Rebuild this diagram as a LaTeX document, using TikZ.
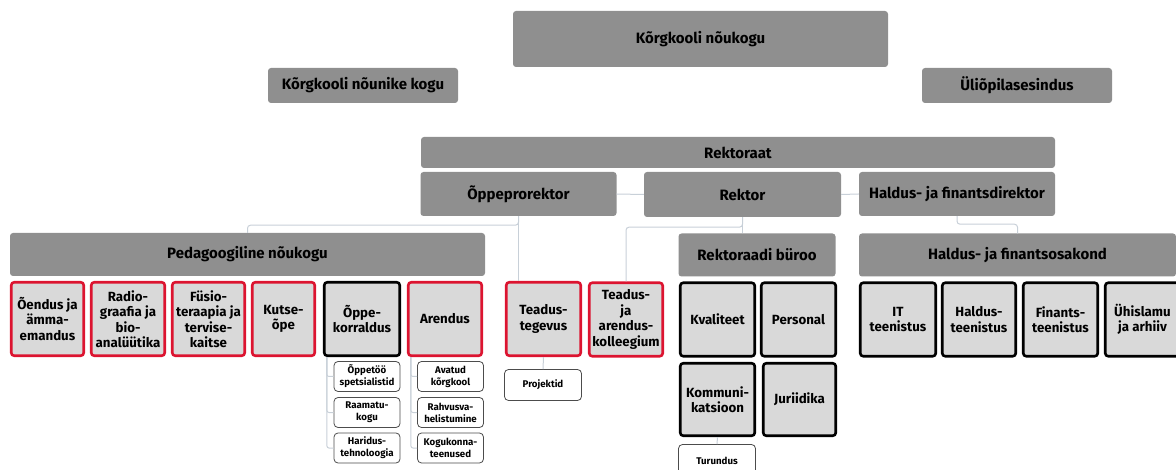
\documentclass[tikz,border=0pt]{standalone}
\usepackage{fontspec}
\setmainfont{Fira Sans}
\definecolor{headgray}{HTML}{8F8F8F}
\definecolor{unitgray}{HTML}{D9D9D9}
\definecolor{unitred}{HTML}{DC1430}
\definecolor{linkgray}{HTML}{C8D0D8}
\tikzset{
  box/.style={rounded corners=3pt, inner sep=0pt, align=center},
  head/.style={box, fill=headgray, font=\bfseries\fontsize{15}{17}\selectfont},
  unit/.style={box, fill=unitgray, draw=black, line width=2.6pt, minimum height=73.5pt,
    font=\bfseries\fontsize{13.3}{15.5}\selectfont},
  redunit/.style={unit, draw=unitred},
  leaf/.style={box, fill=white, draw=black!70, line width=0.8pt, rounded corners=4pt,
    minimum width=66pt, minimum height=30pt, font=\bfseries\fontsize{9.7}{12}\selectfont},
  link/.style={draw=linkgray, line width=1pt, rounded corners=3pt},
}
\begin{document}
\begin{tikzpicture}[x=1pt,y=-1pt]
\useasboundingbox (0,0) rectangle (1176,470);
% juhtimine
\node[head, minimum width=375pt, minimum height=56pt] (council) at (700.5,39) {Kõrgkooli nõukogu};
\node[head, minimum width=190pt, minimum height=35pt] (advisers) at (363,85.5) {Kõrgkooli nõunike kogu};
\node[head, minimum width=190pt, minimum height=35pt] (students) at (1017,85.5) {Üliõpilasesindus};
\node[head, minimum width=634pt, minimum height=31pt] (rectorate) at (738,152.5) {Rektoraat};
\node[head, minimum width=196pt, minimum height=44pt] (vice) at (518.5,194) {Õppeprorektor};
\node[head, minimum width=197pt, minimum height=45pt] (rector) at (742.5,194.5) {Rektor};
\node[head, minimum width=196pt, minimum height=44pt] (director) at (957,194) {Haldus- ja finantsdirektor};
\node[head, minimum width=475pt, minimum height=43pt] (pedcouncil) at (247.5,254.5) {Pedagoogiline nõukogu};
\node[head, minimum width=157pt, minimum height=43pt] (office) at (757,255) {Rektoraadi büroo};
\node[head, minimum width=317pt, minimum height=43pt] (findept) at (1017.5,255) {Haldus- ja finantsosakond};

% üksused
\node[redunit, minimum width=72.5pt] (nursing) at (47.5,319) {Õendus ja\\ämma-\\emandus};
\node[redunit, minimum width=73.5pt] (radio) at (128,319) {Radio-\\graafia ja\\bio-\\analüütika};
\node[redunit, minimum width=72.5pt] (physio) at (208.5,319) {Füsio-\\teraapia ja\\tervise-\\kaitse};
\node[redunit, minimum width=62.5pt] (vocational) at (283.5,319) {Kutse-\\õpe};
\node[unit, minimum width=75.5pt] (studyadmin) at (362,319) {Õppe-\\korraldus};
\node[redunit, minimum width=73.5pt] (development) at (445,319) {Arendus};
\node[redunit, minimum width=74.5pt] (research) at (543.5,319) {Teadus-\\tegevus};
\node[redunit, minimum width=73.5pt] (collegium) at (626,319.5) {Teadus-\\ja\\arendus-\\kolleegium};
\node[unit, minimum width=74.5pt] (quality) at (717.5,319.5) {Kvaliteet};
\node[unit, minimum width=74.5pt] (personnel) at (798.5,319.5) {Personal};
\node[unit, minimum width=74.5pt, minimum height=72.5pt] (communication) at (717.5,399.5) {Kommuni-\\katsioon};
\node[unit, minimum width=72.5pt, minimum height=72.5pt] (legal) at (799.5,399.5) {Juriidika};
\node[unit, minimum width=75.5pt] (itservice) at (898,319.5) {IT\\teenistus};
\node[unit, minimum width=73.5pt] (facilities) at (979,319.5) {Haldus-\\teenistus};
\node[unit, minimum width=74.5pt] (finance) at (1060.5,319.5) {Finants-\\teenistus};
\node[unit, minimum width=74.5pt] (archive) at (1142.5,319.5) {Ühislamu\\ja arhiiv};

% alamüksused
\foreach \n/\y/\t in {sa1/376.5/{Õppetöö\\spetsialistid}, sa2/412.5/{Raamatu-\\kogu}, sa3/448/{Haridus-\\tehnoloogia}}
  \node[leaf] (\n) at (367,\y) {\t};
\foreach \n/\y/\t in {dev1/376.5/{Avatud\\kõrgkool}, dev2/412.5/{Rahvusva-\\helistumine}, dev3/448/{Kogukonna-\\teenused}}
  \node[leaf] (\n) at (450.5,\y) {\t};
\node[leaf, minimum width=77pt, minimum height=31pt] (projects) at (543,385) {Projektid};
\node[leaf, minimum width=77pt, minimum height=33pt] (marketing) at (717,461) {Turundus};

% seosed
\draw[link] (vice.south) -- ++(0,9) -| (pedcouncil.north);
\draw[link] (vice.south) -- (vice.south |- research.north);
\draw[link] (rector.west) -- (vice.east);
\draw[link] (rector.east) -- (director.west);
\draw[link] (rector.south) -- (rector.south |- office.north);
\draw[link] (rector.south) -- ++(0,10) -| (collegium.north);
\draw[link] (director.south) -- ++(0,8) -| (findept.north);
\foreach \n in {sa1,sa2,sa3}
  \draw[link, rounded corners=2pt] ([xshift=4pt]studyadmin.south west) |- (\n.west);
\foreach \n in {dev1,dev2,dev3}
  \draw[link, rounded corners=2pt] ([xshift=4pt]development.south west) |- (\n.west);
\draw[link] (research.south) -- (projects.north);
\draw[link] (communication.south) -- (marketing.north);
\end{tikzpicture}
\end{document}
